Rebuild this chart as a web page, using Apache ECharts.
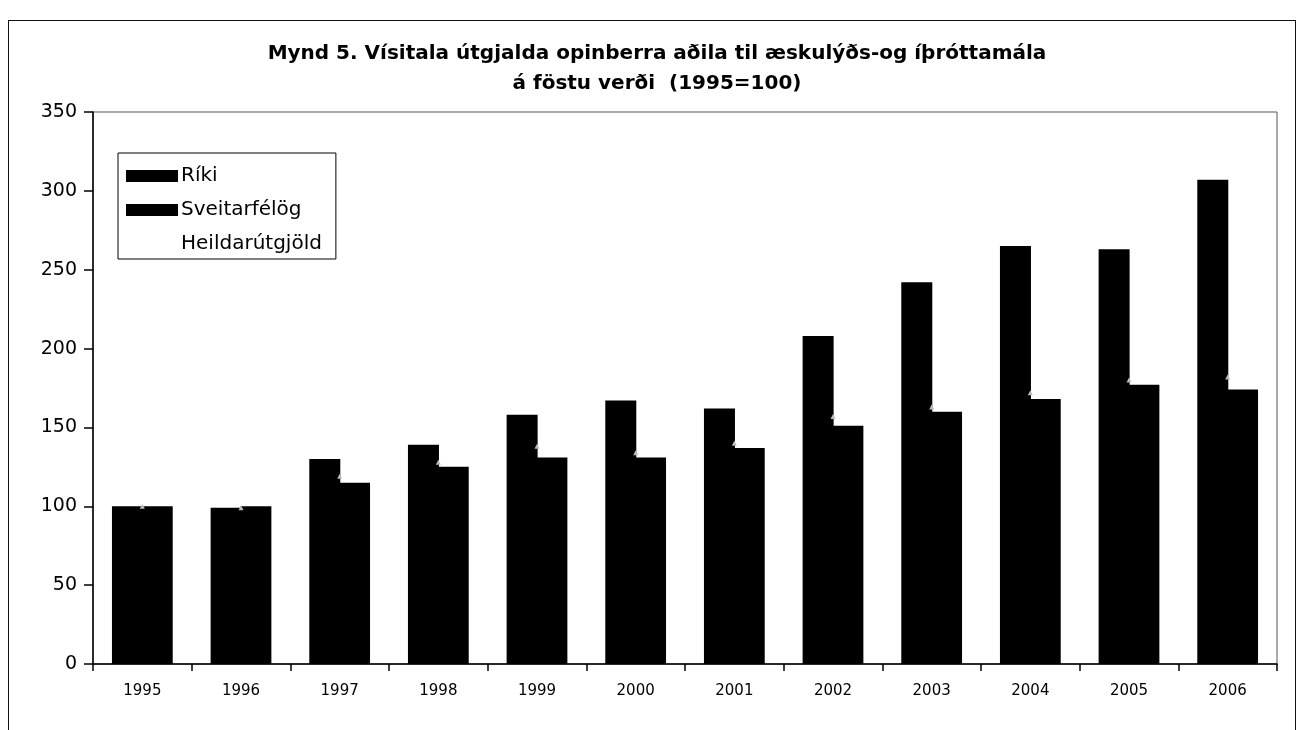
<!DOCTYPE html>
<html>
<head>
<meta charset="utf-8">
<script src="https://cdn.jsdelivr.net/npm/echarts@6/dist/echarts.min.js"></script>
<style>
html,body{margin:0;padding:0;background:#fff;}
#frame{position:absolute;left:8px;top:20px;width:1288px;height:720px;border:1.5px solid #111;border-bottom:none;box-sizing:border-box;}
#chart{width:1306px;height:730px;}
</style>
</head>
<body>
<div id="frame"></div>
<div id="chart"></div>
<script>
// ár (flokkar)
const years = ['1995','1996','1997','1998','1999','2000','2001','2002','2003','2004','2005','2006']
// vísitala, 1995=100
const riki = [100, 99, 130, 139, 158, 167, 162, 208, 242, 265, 263, 307]
const sveitarfelog = [100, 100, 115, 125, 131, 131, 137, 151, 160, 168, 177, 174]
const heildar = [100, 99, 119, 128, 138, 134, 140, 157, 163, 172, 180, 182]
const yTicks = [0, 50, 100, 150, 200, 250, 300, 350]

// skannaða myndin er breið, DejaVu passar betur en Arial
const font = '"DejaVu Sans", "Liberation Sans", sans-serif'
const myChart = echarts.init(document.getElementById('chart'))

const option = {
    animation: false,
    backgroundColor: 'transparent',
    title: {
        text: 'Mynd 5. Vísitala útgjalda opinberra aðila til æskulýðs-og íþróttamála\ná föstu verði  (1995=100)',
        left: 652,
        textAlign: 'center',
        top: 34,
        textStyle: {
            fontFamily: font,
            fontWeight: 'bold',
            fontSize: 20,
            lineHeight: 30,
            color: '#000'
        }
    },
    legend: {
        orient: 'vertical',
        left: 118,
        top: 153,
        padding: [11, 14, 3, 8],
        borderColor: '#000',
        borderWidth: 1,
        itemWidth: 52,
        itemHeight: 12,
        itemGap: 10,
        selectedMode: false,
        textStyle: { fontFamily: font, fontSize: 20, color: '#000', lineHeight: 24, padding: [0, 0, 0, -2] },
        data: [
            { name: 'Ríki', icon: 'rect' },
            { name: 'Sveitarfélög', icon: 'rect' },
            { name: 'Heildarútgjöld', icon: 'rect', itemStyle: { opacity: 0 }, lineStyle: { opacity: 0 } }
        ]
    },
    grid: {
        left: 93,
        right: 29,
        top: 112,
        bottom: 66,
        show: true,
        borderColor: '#555',
        borderWidth: 1
    },
    xAxis: {
        type: 'category',
        data: years,
        axisLine: { lineStyle: { color: '#000', width: 1.5 } },
        axisTick: { show: true, length: 7, lineStyle: { color: '#000', width: 1.5 } },
        axisLabel: { fontFamily: font, fontSize: 15, color: '#000', margin: 20 },
        splitLine: { show: false }
    },
    yAxis: {
        type: 'value',
        min: 0,
        max: 350,
        interval: 50,
        axisLine: { show: true, lineStyle: { color: '#000', width: 1.5 } },
        axisTick: { show: true, length: 9, lineStyle: { color: '#000', width: 1.5 } },
        axisLabel: {
            fontFamily: font, fontSize: 19, color: '#000', margin: 16,
            formatter: function (v) { return yTicks.indexOf(v) >= 0 ? String(v) : '' }
        },
        splitLine: { show: false }
    },
    series: [
        {
            name: 'Ríki',
            type: 'bar',
            data: riki,
            barWidth: 31,
            barGap: '-4%',
            itemStyle: { color: '#000' }
        },
        {
            name: 'Sveitarfélög',
            type: 'bar',
            data: sveitarfelog,
            barWidth: 31,
            itemStyle: { color: '#000' }
        },
        {
            name: 'Heildarútgjöld',
            type: 'line',
            data: heildar,
            symbol: 'triangle',
            symbolSize: 5,
            itemStyle: { color: '#bbb' },
            lineStyle: { opacity: 0 },
            z: 5
        }
    ]
}

myChart.setOption(option)
</script>
</body>
</html>
